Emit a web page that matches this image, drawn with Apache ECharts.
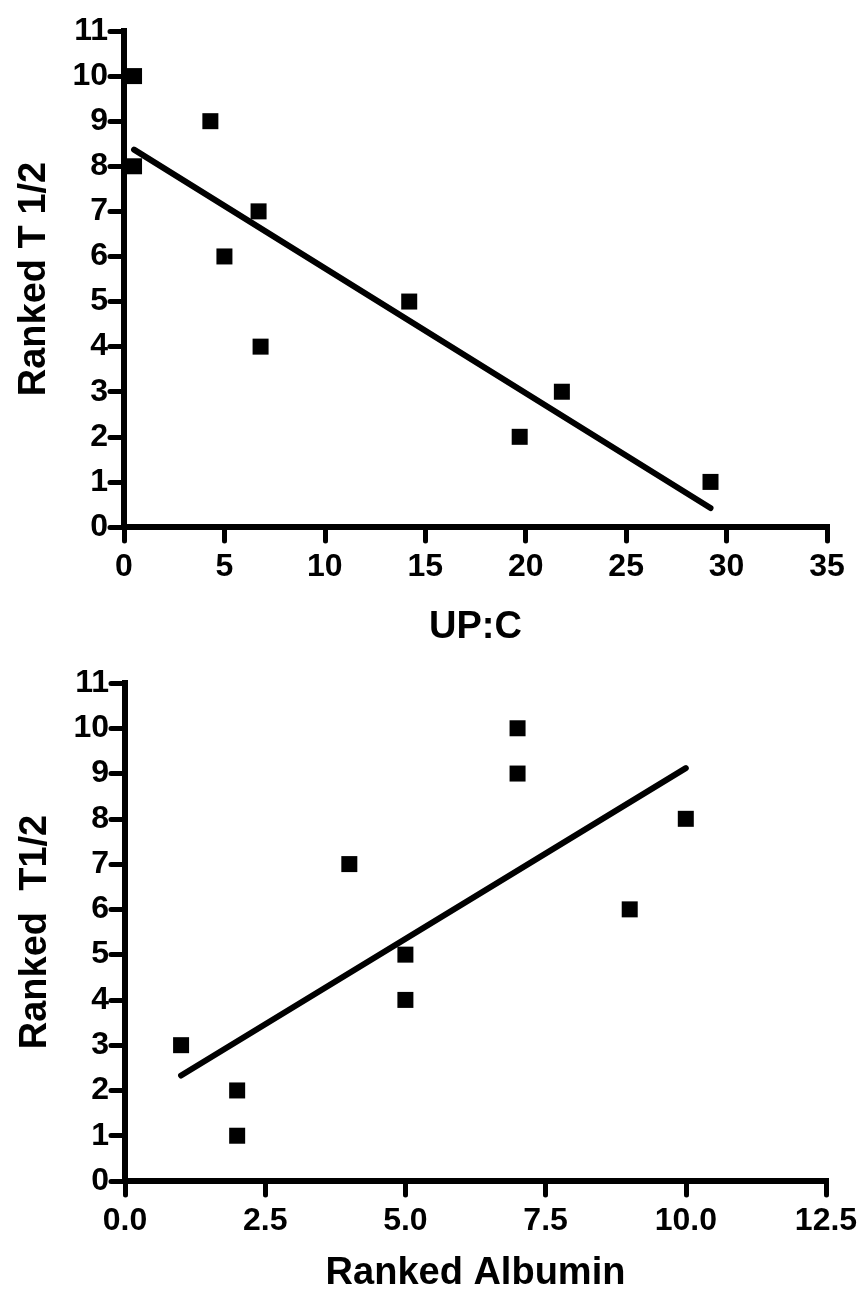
<!DOCTYPE html>
<html>
<head>
<meta charset="utf-8">
<script src="https://cdn.jsdelivr.net/npm/echarts@6/dist/echarts.min.js"></script>
<style>
html,body{margin:0;padding:0;background:#fff;}
#chart{width:864px;height:1299px;}
</style>
</head>
<body>
<div id="chart"></div>
<script>
// Top panel: UP:C vs Ranked T 1/2
const upcValues = [0.5, 0.5, 4.3, 6.7, 5.0, 6.8, 14.2, 19.7, 21.8, 29.2];
const rankedT1Top = [10, 8, 9, 7, 6, 4, 5, 2, 3, 1];
const fitTopX = [0.5, 29.2];
const fitTopY = [8.37, 0.42];
const topXTicks = [0, 5, 10, 15, 20, 25, 30, 35];
const topYTicks = [0,1,2,3,4,5,6,7,8,9,10,11];

// Bottom panel: Ranked Albumin vs Ranked T1/2
const rankedAlbumin = [1, 2, 2, 4, 5, 5, 7, 7, 9, 10];
const rankedT1Bottom = [3, 2, 1, 7, 5, 4, 10, 9, 6, 8];
const fitBottomX = [1, 10];
const fitBottomY = [2.33, 9.12];
const bottomXTicks = ['0.0', '2.5', '5.0', '7.5', '10.0', '12.5'];
const bottomYTicks = [0,1,2,3,4,5,6,7,8,9,10,11];

const FONT = '"Liberation Sans", Arial, Helvetica, sans-serif';
const pairs = (xs, ys) => xs.map((x, i) => [x, ys[i]]);

function axisCommon() {
  return {
    axisLine: { show: true, lineStyle: { color: '#000', width: 6, cap: 'square' } },
    axisTick: { show: true, inside: false, length: 14, lineStyle: { color: '#000', width: 5, cap: 'round' } },
    splitLine: { show: false },
    axisLabel: { color: '#000', fontSize: 32, fontWeight: 'bold', fontFamily: FONT },
    nameTextStyle: { color: '#000', fontSize: 38, fontWeight: 'bold', fontFamily: FONT }
  };
}

const chart = echarts.init(document.getElementById('chart'), null, { renderer: 'canvas' });
chart.setOption({
  backgroundColor: '#fff',
  animation: false,
  grid: [
    { left: 124, top: 31, width: 703, height: 496 },
    { left: 125, top: 683, width: 701, height: 498 }
  ],
  xAxis: [
    Object.assign(axisCommon(), {
      gridIndex: 0, type: 'value',
      min: topXTicks[0], max: topXTicks[topXTicks.length - 1], interval: topXTicks[1] - topXTicks[0],
      name: 'UP:C', nameLocation: 'middle', nameGap: 82
    }),
    Object.assign(axisCommon(), {
      gridIndex: 1, type: 'value',
      min: parseFloat(bottomXTicks[0]), max: parseFloat(bottomXTicks[bottomXTicks.length - 1]),
      interval: parseFloat(bottomXTicks[1]) - parseFloat(bottomXTicks[0]),
      name: 'Ranked Albumin', nameLocation: 'middle', nameGap: 74
    })
  ],
  yAxis: [
    Object.assign(axisCommon(), {
      gridIndex: 0, type: 'value',
      min: topYTicks[0], max: topYTicks[topYTicks.length - 1], interval: 1,
      name: 'Ranked T 1/2', nameLocation: 'middle', nameGap: 70
    }),
    Object.assign(axisCommon(), {
      gridIndex: 1, type: 'value',
      min: bottomYTicks[0], max: bottomYTicks[bottomYTicks.length - 1], interval: 1,
      name: 'Ranked  T1/2', nameLocation: 'middle', nameGap: 70
    })
  ],
  series: [
    {
      type: 'line', xAxisIndex: 0, yAxisIndex: 0,
      data: pairs(fitTopX, fitTopY), showSymbol: false, symbol: 'none',
      lineStyle: { color: '#000', width: 6, cap: 'round' }, z: 3
    },
    {
      type: 'scatter', xAxisIndex: 0, yAxisIndex: 0,
      data: pairs(upcValues, rankedT1Top), symbol: 'rect', symbolSize: 16,
      itemStyle: { color: '#000', opacity: 1 }, clip: false, z: 4
    },
    {
      type: 'line', xAxisIndex: 1, yAxisIndex: 1,
      data: pairs(fitBottomX, fitBottomY), showSymbol: false, symbol: 'none',
      lineStyle: { color: '#000', width: 6, cap: 'round' }, z: 3
    },
    {
      type: 'scatter', xAxisIndex: 1, yAxisIndex: 1,
      data: pairs(rankedAlbumin, rankedT1Bottom), symbol: 'rect', symbolSize: 16,
      itemStyle: { color: '#000', opacity: 1 }, clip: false, z: 4
    }
  ]
});
chart.setOption({
  xAxis: [
    { axisLabel: { margin: 24 } },
    { axisLabel: { margin: 24, formatter: v => v.toFixed(1) } }
  ],
  yAxis: [
    { axisLabel: { margin: 16 } },
    { axisLabel: { margin: 16 } }
  ]
});
</script>
</body>
</html>
